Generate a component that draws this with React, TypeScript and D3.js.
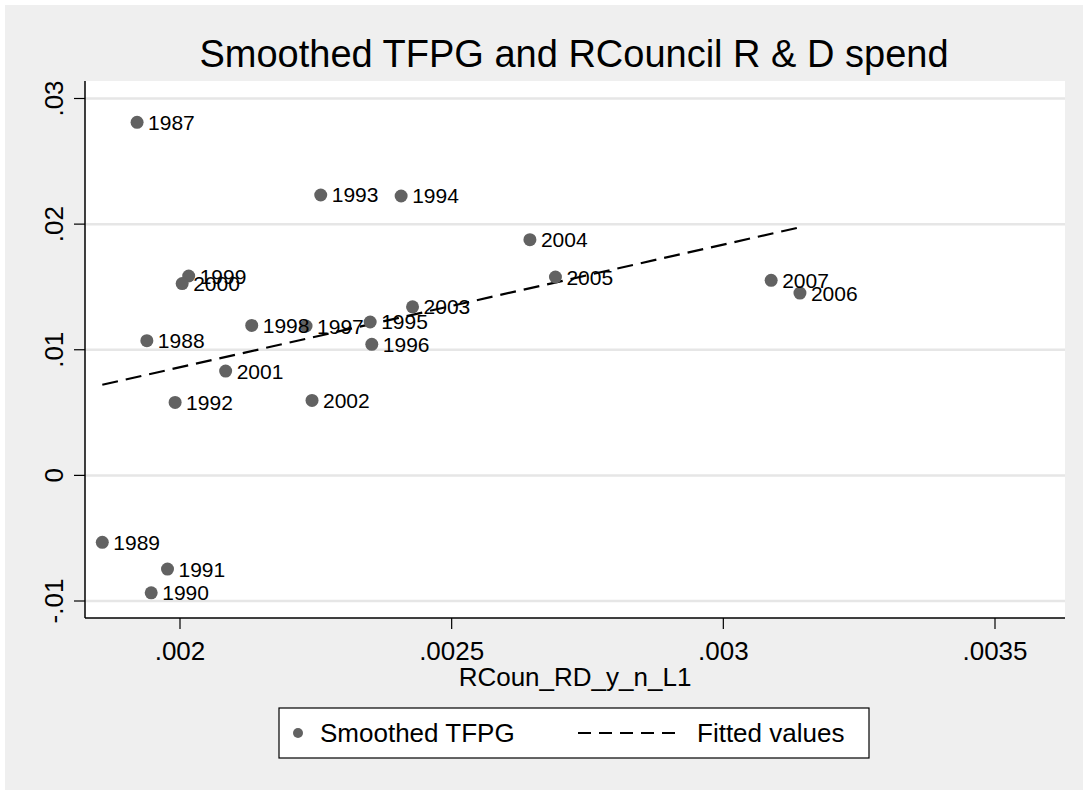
import React from "react";
import * as d3 from "d3";

const years = [1987, 1988, 1989, 1990, 1991, 1992, 1993, 1994, 1995, 1996, 1997, 1998, 1999, 2000, 2001, 2002, 2003, 2004, 2005, 2006, 2007];
const rdSpend = [0.001921, 0.001939, 0.001857, 0.001947, 0.001977, 0.001991, 0.002259, 0.002407, 0.00235, 0.002353, 0.002232, 0.002132, 0.002016, 0.002004, 0.002084, 0.002243, 0.002428, 0.002644, 0.002691, 0.003141, 0.003088];
const tfpg = [0.028105, 0.01072, -0.00533, -0.00935, -0.00746, 0.00581, 0.02232, 0.02224, 0.01221, 0.01043, 0.01189, 0.01194, 0.01587, 0.01527, 0.0083, 0.00597, 0.01342, 0.01876, 0.01579, 0.01451, 0.01553];
const fittedX = [0.001857, 0.003141];
const fittedY = [0.00721, 0.01975];
const xTicks = [0.002, 0.0025, 0.003, 0.0035];
const xTickLabels = [".002", ".0025", ".003", ".0035"];
const yTicks = [-0.01, 0, 0.01, 0.02, 0.03];
const yTickLabels = ["-.01", "0", ".01", ".02", ".03"];

const W = 1083;
const H = 790;
const plot = { left: 85, right: 1065, top: 81, bottom: 618 };
const FONT = "'Liberation Sans', Arial, Helvetica, sans-serif";
const MARKER = "#626262";

export default function App() {
  const x = d3.scaleLinear().domain([0.002, 0.0035]).range([180, 995]);
  const y = d3.scaleLinear().domain([-0.01, 0.03]).range([601, 98.5]);
  const line = d3
    .line<number>()
    .x((d, i) => x(fittedX[i]))
    .y((d, i) => y(fittedY[i]));

  return (
    <svg
      width={W}
      height={H}
      style={{ position: "fixed", left: 0, top: 0, fontFamily: FONT }}
    >
      <rect x={0} y={0} width={W} height={H} fill="#ffffff" />
      <rect x={5} y={5} width={W - 5} height={H - 5} fill="#efefef" />
      <rect
        x={plot.left}
        y={plot.top}
        width={plot.right - plot.left}
        height={plot.bottom - plot.top}
        fill="#ffffff"
      />
      {yTicks.map((t) => (
        <line
          key={"g" + t}
          x1={plot.left}
          x2={plot.right}
          y1={y(t)}
          y2={y(t)}
          stroke="#e6e6e6"
          strokeWidth={2.5}
        />
      ))}
      <path
        d={line(fittedY) || ""}
        fill="none"
        stroke="#000"
        strokeWidth={2.2}
        strokeDasharray="16,8"
      />
      {years.map((yr, i) => (
        <circle key={"p" + yr} cx={x(rdSpend[i])} cy={y(tfpg[i])} r={6.5} fill={MARKER} />
      ))}
      {years.map((yr, i) => (
        <text
          key={"l" + yr}
          x={x(rdSpend[i]) + 11}
          y={y(tfpg[i]) + 7.5}
          fontSize={21}
          fill="#000"
        >
          {yr}
        </text>
      ))}
      <line x1={plot.left} x2={plot.left} y1={plot.top} y2={plot.bottom} stroke="#000" strokeWidth={1.5} />
      <line x1={plot.left} x2={plot.right} y1={plot.bottom} y2={plot.bottom} stroke="#000" strokeWidth={1.5} />
      {yTicks.map((t, i) => (
        <g key={"yt" + t}>
          <line x1={plot.left - 11} x2={plot.left} y1={y(t)} y2={y(t)} stroke="#000" strokeWidth={1.2} />
          <text
            transform={`translate(63,${y(t)}) rotate(-90)`}
            textAnchor="middle"
            fontSize={26}
            fill="#000"
          >
            {yTickLabels[i]}
          </text>
        </g>
      ))}
      {xTicks.map((t, i) => (
        <g key={"xt" + t}>
          <line x1={x(t)} x2={x(t)} y1={plot.bottom} y2={plot.bottom + 11} stroke="#000" strokeWidth={1.2} />
          <text x={x(t)} y={660} textAnchor="middle" fontSize={26} fill="#000">
            {xTickLabels[i]}
          </text>
        </g>
      ))}
      <text x={(plot.left + plot.right) / 2} y={686} textAnchor="middle" fontSize={26} fill="#000">
        RCoun_RD_y_n_L1
      </text>
      <text x={574} y={67} textAnchor="middle" fontSize={38} fill="#000">
        Smoothed TFPG and RCouncil R &amp; D spend
      </text>
      <rect x={279} y={708} width={590} height={50} fill="#ffffff" stroke="#000" strokeWidth={1.2} />
      <circle cx={298} cy={733} r={5} fill={MARKER} />
      <text x={320} y={742} fontSize={26} fill="#000">
        Smoothed TFPG
      </text>
      <line x1={578} x2={682} y1={733} y2={733} stroke="#000" strokeWidth={2.2} strokeDasharray="13,8" />
      <text x={697} y={742} fontSize={26} fill="#000">
        Fitted values
      </text>
    </svg>
  );
}
